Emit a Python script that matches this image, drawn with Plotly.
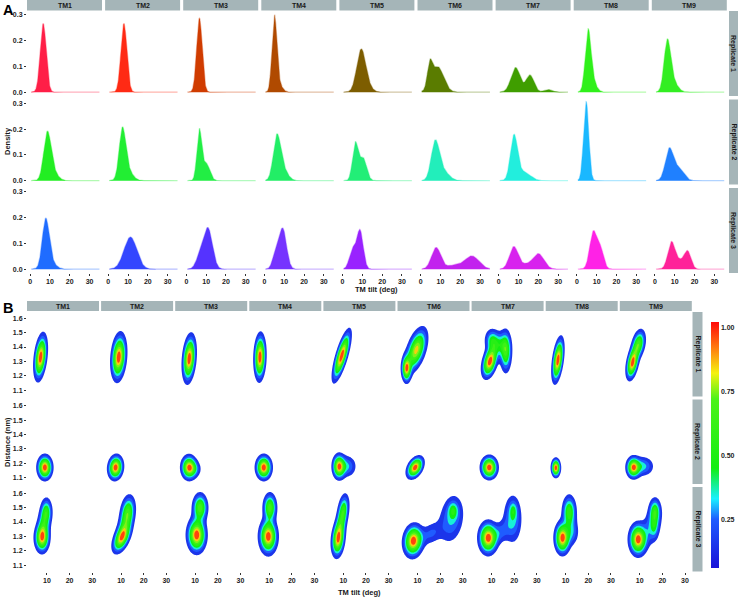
import numpy as np
import plotly.graph_objects as go

W, H = 738, 597

tm_names = ["TM1", "TM2", "TM3", "TM4", "TM5", "TM6", "TM7", "TM8", "TM9"]
rep_names = ["Replicate 1", "Replicate 2", "Replicate 3"]

# ---- panel A : tilt densities, peaks as (mean, sd, weight)
dens_colors = [
    ["#ff1f47", "#ff2a14", "#d03c00", "#b04a00", "#7d5d00", "#5a7c00", "#3f9e00", "#2ff01a", "#33ee22"],
    ["#22ee22", "#22ee33", "#22ee44", "#22ee66", "#22ee77", "#22eebb", "#22eedd", "#1ab8ff", "#1f80ff"],
    ["#1f6cff", "#3346ff", "#5533ff", "#7633ff", "#9922ff", "#c222ee", "#d822ee", "#ff22e6", "#ff2299"],
]
dens_peaks = [
    [[(6.6, 1.5, 1.0)],
     [(7.9, 1.5, 1.0)],
     [(6.6, 1.39, 1.0)],
     [(5.0, 1.2, 0.85), (7.0, 1.8, 0.15)],
     [(9.3, 2.2, 0.85), (12.0, 2.5, 0.15)],
     [(4.6, 1.2, 0.25), (8.5, 3.0, 0.75)],
     [(8.5, 2.3, 0.55), (15.8, 2.0, 0.33), (25.0, 2.0, 0.05)],
     [(5.6, 1.4, 0.75), (7.5, 2.0, 0.25)],
     [(6.2, 1.6, 0.7), (8.5, 2.5, 0.3)]],
    [[(8.6, 1.8, 0.75), (11.0, 2.5, 0.25)],
     [(7.1, 1.6, 0.72), (9.5, 2.5, 0.28)],
     [(6.5, 1.2, 0.58), (10.0, 1.8, 0.3)],
     [(6.2, 1.8, 0.7), (9.0, 2.5, 0.3)],
     [(6.4, 1.4, 0.5), (10.3, 1.8, 0.4)],
     [(7.3, 2.0, 0.7), (11.0, 3.0, 0.3)],
     [(7.7, 1.8, 0.78), (13.0, 3.0, 0.25)],
     [(4.7, 1.3, 1.0)],
     [(7.2, 2.0, 0.6), (12.0, 2.5, 0.3)]],
    [[(7.8, 1.7, 0.75), (10.0, 2.5, 0.2)],
     [(11.2, 3.2, 1.0)],
     [(11.0, 2.2, 0.85), (7.0, 2.0, 0.25)],
     [(9.2, 1.9, 0.75), (5.5, 1.5, 0.2)],
     [(8.8, 1.6, 0.6), (5.0, 1.6, 0.3)],
     [(7.8, 2.3, 0.48), (26.0, 3.5, 0.44), (17.0, 4.0, 0.15)],
     [(7.6, 2.2, 0.48), (20.0, 2.8, 0.42), (13.5, 2.5, 0.1)],
     [(8.3, 1.8, 0.65), (12.0, 1.6, 0.3)],
     [(8.3, 1.8, 0.47), (16.5, 1.7, 0.29), (12.5, 2.0, 0.15)]],
]
dens_ticks = [0, 0.1, 0.2, 0.3]
tilt_ticks_a = [0, 10, 20, 30]

# ---- panel B : tilt vs distance, blobs as (tilt, dist, sd_tilt, sd_dist, rho, weight)
blob_peaks = [
    [[(7.2, 1.33, 1.55, 0.082, 0.35, 1.0)],
     [(9.0, 1.33, 1.8, 0.084, 0.2, 1.0)],
     [(7.4, 1.32, 1.6, 0.085, 0.25, 1.0)],
     [(5.9, 1.33, 1.4, 0.083, 0.1, 1.0)],
     [(9.3, 1.34, 2.1, 0.09, 0.75, 1.0)],
     [(5.2, 1.25, 1.2, 0.05, 0.0, 0.5), (9.5, 1.38, 2.6, 0.08, 0.5, 0.5)],
     [(9.3, 1.30, 1.9, 0.06, 0.4, 0.65), (10.0, 1.45, 1.8, 0.045, 0.0, 0.22),
      (16.3, 1.37, 1.5, 0.08, 0.0, 0.4), (13.0, 1.42, 2.4, 0.05, 0.0, 0.22)],
     [(6.6, 1.31, 1.4, 0.08, 0.45, 1.0)],
     [(6.8, 1.29, 1.5, 0.06, 0.4, 0.6), (9.5, 1.42, 1.7, 0.055, 0.3, 0.4)]],
    [[(9.1, 1.172, 1.8, 0.045, 0.0, 1.0)],
     [(7.6, 1.172, 1.8, 0.045, 0.1, 1.0)],
     [(7.3, 1.172, 1.9, 0.045, 0.0, 1.0), (10.0, 1.16, 1.8, 0.035, 0.0, 0.2)],
     [(7.6, 1.172, 1.9, 0.045, 0.0, 1.0)],
     [(8.1, 1.178, 1.6, 0.046, 0.0, 0.8), (12.0, 1.18, 2.3, 0.045, 0.0, 0.25)],
     [(9.0, 1.172, 2.0, 0.04, 0.4, 1.0)],
     [(9.0, 1.172, 2.0, 0.042, 0.0, 1.0)],
     [(5.7, 1.17, 1.1, 0.034, 0.0, 1.0)],
     [(7.2, 1.172, 1.7, 0.04, 0.0, 0.8), (11.5, 1.18, 2.8, 0.04, 0.0, 0.3)]],
    [[(7.8, 1.29, 1.8, 0.055, 0.0, 0.6), (9.8, 1.47, 1.5, 0.055, 0.0, 0.35), (8.5, 1.38, 1.6, 0.065, 0.0, 0.25)],
     [(10.3, 1.29, 2.2, 0.055, 0.5, 0.6), (13.0, 1.47, 1.9, 0.065, 0.2, 0.4), (11.5, 1.38, 2.0, 0.06, 0.4, 0.2)],
     [(10.7, 1.31, 2.3, 0.065, 0.0, 0.6), (12.2, 1.5, 1.9, 0.055, 0.0, 0.4)],
     [(9.6, 1.30, 2.2, 0.065, 0.0, 0.6), (10.3, 1.5, 1.7, 0.055, 0.0, 0.4)],
     [(7.7, 1.28, 1.6, 0.065, 0.2, 0.6), (10.0, 1.48, 1.5, 0.065, 0.3, 0.35), (8.8, 1.38, 1.5, 0.06, 0.3, 0.2)],
     [(8.2, 1.27, 2.4, 0.06, 0.1, 0.7), (25.8, 1.48, 1.5, 0.04, 0.0, 0.2),
      (25.0, 1.42, 3.4, 0.1, 0.2, 0.22), (16.0, 1.32, 3.0, 0.05, 0.3, 0.15)],
     [(8.5, 1.29, 2.3, 0.06, 0.0, 0.7), (19.6, 1.48, 1.2, 0.04, 0.0, 0.16),
      (19.3, 1.42, 2.5, 0.1, 0.0, 0.24), (14.0, 1.33, 2.5, 0.05, 0.3, 0.15)],
     [(8.6, 1.29, 1.9, 0.06, 0.0, 0.6), (11.6, 1.47, 1.8, 0.065, 0.0, 0.35), (13.0, 1.33, 1.8, 0.055, 0.0, 0.15)],
     [(9.3, 1.28, 2.2, 0.06, 0.0, 0.62), (16.7, 1.48, 1.5, 0.05, 0.0, 0.28),
      (16.5, 1.37, 1.2, 0.055, 0.0, 0.14), (15.5, 1.38, 2.5, 0.08, 0.3, 0.18)]],
]
dist_ticks = [1.1, 1.2, 1.3, 1.4, 1.5, 1.6]
tilt_ticks_b = [10, 20, 30]
level_cols = [(0.06, "#1a12d8"), (0.25, "#1f5cff"), (0.33, "#19f0ff"), (0.45, "#12ee12"),
              (0.72, "#4cf21a"), (0.82, "#f5f20f"), (0.92, "#ff7a0f"), (1.02, "#ff0a0a")]
bar_ticks = [0.25, 0.5, 0.75, 1.0]

FONT = "Liberation Sans"
STRIP = "#a5b5b8"


def px(x):
    return x / W


def py(y):
    return 1 - y / H


def hex_rgba(c, a):
    c = c.lstrip("#")
    return f"rgba({int(c[0:2], 16)},{int(c[2:4], 16)},{int(c[4:6], 16)},{a})"


def lerp_colour(v):
    vals = [p[0] for p in level_cols]
    rgb = [[int(p[1][i:i + 2], 16) for i in (1, 3, 5)] for p in level_cols]
    out = [int(round(np.interp(v, vals, [c[k] for c in rgb]))) for k in range(3)]
    return f"rgb({out[0]},{out[1]},{out[2]})"


def label(x, y, text, size=7, angle=0, color="#1a1a1a"):
    return dict(x=px(x), y=py(y), xref="paper", yref="paper", text=text, showarrow=False,
                xanchor="center", yanchor="middle", textangle=angle,
                font=dict(family=FONT, size=size, color=color, weight="bold"))


fig = go.Figure()
layout = {}
shapes = []
annots = []
tickfont = dict(family=FONT, size=7, color="#222222", weight="bold")
k = 0

# ---- panel A
xg = np.linspace(0.5, 35, 300)
a_tops = [11, 99.5, 188]
for r in range(3):
    for c in range(9):
        k += 1
        x0 = 27 + 78.1 * c
        y0 = a_tops[r]
        xa = "xaxis" if k == 1 else f"xaxis{k}"
        ya = "yaxis" if k == 1 else f"yaxis{k}"
        yd = np.zeros_like(xg)
        for m, s, w in dens_peaks[r][c]:
            yd += w * np.exp(-0.5 * ((xg - m) / s) ** 2) / (s * np.sqrt(2 * np.pi))
        col = dens_colors[r][c]
        fig.add_trace(go.Scatter(x=xg, y=yd, mode="lines", fill="tozeroy", fillcolor=col,
                                 line=dict(color=hex_rgba(col, 0.35), width=1.3),
                                 xaxis=xa.replace("axis", ""), yaxis=ya.replace("axis", ""),
                                 showlegend=False, hoverinfo="skip"))
        layout[xa] = dict(domain=[px(x0), px(x0 + 75)], range=[-1.6, 36.3], anchor=ya.replace("axis", ""),
                          showgrid=False, zeroline=False, showline=False,
                          tickvals=tilt_ticks_a if r == 2 else [], ticks="outside" if r == 2 else "",
                          ticklen=2, tickcolor="#333", tickfont=tickfont)
        layout[ya] = dict(domain=[py(y0 + 85), py(y0)], range=[-0.015, 0.315], anchor=xa.replace("axis", ""),
                          showgrid=False, zeroline=False, showline=False,
                          tickvals=dens_ticks if c == 0 else [], ticks="outside" if c == 0 else "",
                          ticktext=["0.0", "0.1", "0.2", "0.3"],
                          ticklen=2, tickcolor="#333", tickfont=tickfont)
        if r == 0:
            shapes.append(dict(type="rect", xref="paper", yref="paper", x0=px(x0), x1=px(x0 + 75),
                               y0=py(10.5), y1=py(0), fillcolor=STRIP, line_width=0))
            annots.append(label(x0 + 37.5, 5.5, tm_names[c]))
    shapes.append(dict(type="rect", xref="paper", yref="paper", x0=px(729), x1=px(738),
                       y0=py(a_tops[r] + 85), y1=py(a_tops[r]), fillcolor=STRIP, line_width=0))
    annots.append(label(733.5, a_tops[r] + 42.5, rep_names[r], angle=90))

# ---- panel B
nlev = 9
levels = [0.1 + 0.1 * i for i in range(nlev)]
mids = [(levels[i] + levels[i + 1]) / 2 for i in range(nlev - 1)] + [0.97]
cont_scale = [[0, "rgba(255,255,255,0)"]] + [[(j + 1) / nlev, lerp_colour(mids[j])] for j in range(nlev)]
gx = np.linspace(0, 36, 181)
gy = np.linspace(1.0, 1.7, 141)
GX, GY = np.meshgrid(gx, gy)
b_tops = [312, 399.5, 487]
for r in range(3):
    for c in range(9):
        k += 1
        x0 = 27 + 74.1 * c
        y0 = b_tops[r]
        xa = f"xaxis{k}"
        ya = f"yaxis{k}"
        z = np.zeros_like(GX)
        for mx, my, sx, sy, rho, w in blob_peaks[r][c]:
            dx = (GX - mx) / sx
            dy = (GY - my) / sy
            q = (dx ** 2 - 2 * rho * dx * dy + dy ** 2) / (1 - rho ** 2)
            z += w * np.exp(-0.5 * q)
        z = z / z.max()
        fig.add_trace(go.Contour(x=gx, y=gy, z=z, colorscale=cont_scale, showscale=False,
                                 contours=dict(start=levels[0], end=levels[-1], size=0.1, coloring="fill"),
                                 line=dict(width=0, smoothing=1), hoverinfo="skip",
                                 xaxis=f"x{k}", yaxis=f"y{k}"))
        layout[xa] = dict(domain=[px(x0), px(x0 + 72)], range=[1.2, 33], anchor=f"y{k}",
                          showgrid=False, zeroline=False, showline=False,
                          tickvals=tilt_ticks_b if r == 2 else [], ticks="outside" if r == 2 else "",
                          ticklen=2, tickcolor="#333", tickfont=tickfont)
        layout[ya] = dict(domain=[py(y0 + 84.5), py(y0)], range=[1.058, 1.642], anchor=f"x{k}",
                          showgrid=False, zeroline=False, showline=False,
                          tickvals=dist_ticks if c == 0 else [], ticks="outside" if c == 0 else "",
                          ticklen=2, tickcolor="#333", tickfont=tickfont)
        if r == 0:
            shapes.append(dict(type="rect", xref="paper", yref="paper", x0=px(x0), x1=px(x0 + 72),
                               y0=py(311), y1=py(301), fillcolor=STRIP, line_width=0))
            annots.append(label(x0 + 36, 306, tm_names[c]))
    shapes.append(dict(type="rect", xref="paper", yref="paper", x0=px(692.5), x1=px(702.5),
                       y0=py(b_tops[r] + 84.5), y1=py(b_tops[r]), fillcolor=STRIP, line_width=0))
    annots.append(label(697.5, b_tops[r] + 42, rep_names[r], angle=90))

# colour bar from a dummy trace
bar_scale = [[(v - 0.06) / 0.96, col] for v, col in level_cols]
fig.add_trace(go.Scatter(x=[None], y=[None], mode="markers", xaxis="x28", yaxis="y28", showlegend=False,
                         marker=dict(color=[0.5], cmin=0.06, cmax=1.02, colorscale=bar_scale, showscale=True,
                                     colorbar=dict(x=px(711), xanchor="left", y=py(445), yanchor="middle",
                                                   len=246 / H, lenmode="fraction", thickness=8,
                                                   outlinewidth=0, tickvals=bar_ticks,
                                                   ticktext=["0.25", "0.50", "0.75", "1.00"],
                                                   ticks="", tickfont=tickfont, xpad=0, ypad=0))))

annots += [
    label(8, 10, "A", size=14.5, color="black"),
    label(8, 308, "B", size=14.5, color="black"),
    label(377, 289, "TM tilt (deg)", size=7.5),
    label(359, 592, "TM tilt (deg)", size=7.5),
    label(7, 141, "Density", size=7.5, angle=-90),
    label(7, 442, "Distance (nm)", size=7.5, angle=-90),
]

fig.update_layout(**layout)
fig.update_layout(width=W, height=H, margin=dict(l=0, r=0, t=0, b=0), paper_bgcolor="white",
                  plot_bgcolor="white", shapes=shapes, annotations=annots, showlegend=False)
fig.write_html("out.html", config={"displayModeBar": False},
               post_script="document.body.style.margin='0';")
